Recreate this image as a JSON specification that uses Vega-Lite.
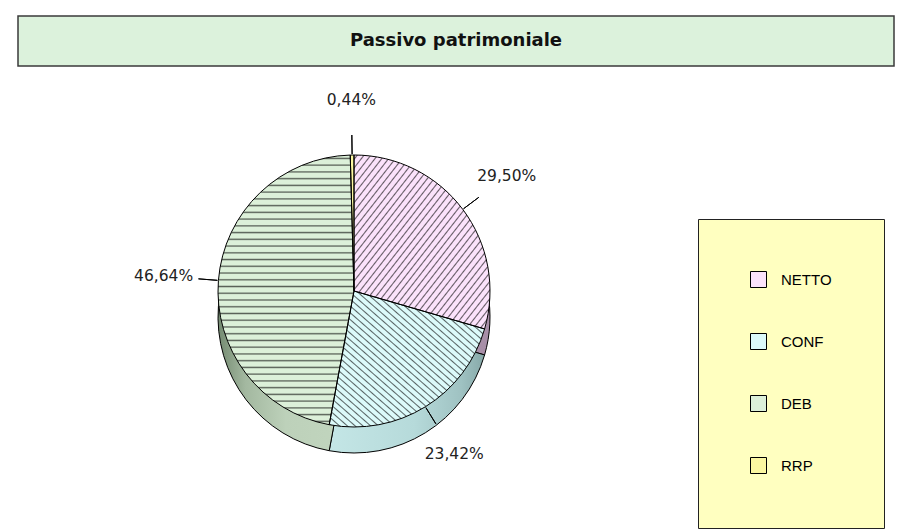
{
  "$schema": "https://vega.github.io/schema/vega-lite/v6.json",
  "background": "white",
  "padding": {"left": 17, "top": 15, "right": 0, "bottom": 0},
  "spacing": 1,
  "config": {
    "view": {"stroke": null},
    "locale": {"number": {"decimal": ",", "thousands": ".", "grouping": [3], "currency": ["€", ""]}}
  },
  "datasets": {
    "passivo": [
      {"voce": "NETTO", "quota": 0.2950, "ord": 1},
      {"voce": "CONF", "quota": 0.2342, "ord": 2},
      {"voce": "DEB", "quota": 0.4664, "ord": 3},
      {"voce": "RRP", "quota": 0.0044, "ord": 4}
    ]
  },
  "vconcat": [
    {
      "width": 876,
      "height": 50,
      "data": {"values": [{}]},
      "view": {"fill": "#dcf2dc", "stroke": "#3a3a3a", "strokeWidth": 1.5},
      "mark": {"type": "text", "font": "DejaVu Sans", "fontWeight": "bold", "fontSize": 18, "color": "#111111"},
      "encoding": {"text": {"value": "Passivo patrimoniale"}}
    },
    {
      "width": 672,
      "height": 446,
      "data": {"name": "passivo"},
      "encoding": {
        "theta": {"field": "quota", "type": "quantitative", "stack": true},
        "order": {"field": "ord", "type": "quantitative"}
      },
      "layer": [
        {
          "mark": {"type": "arc", "radius": 136, "yOffset": 13},
          "encoding": {
            "fill": {
              "condition": [
                {"test": "datum.voce === 'NETTO'", "value": "#a88fa8"},
                {"test": "datum.voce === 'CONF'", "value": "#a8cccc"},
                {"test": "datum.voce === 'DEB'", "value": "#748a71"}
              ],
              "value": "#d8d28a"
            }
          }
        },
        {
          "mark": {"type": "arc", "radius": 136, "yOffset": 26, "stroke": "#000000", "strokeWidth": 1},
          "encoding": {
            "fill": {
              "condition": [
                {"test": "datum.voce === 'NETTO'", "value": "#a88fa8"},
                {"test": "datum.voce === 'CONF'", "value": {"gradient": "linear", "x1": 0, "y1": 0, "x2": 1, "y2": 0, "stops": [
                  {"offset": 0, "color": "#c4e6e6"}, {"offset": 0.55, "color": "#b6dada"}, {"offset": 0.85, "color": "#9fc2c2"}, {"offset": 1, "color": "#86a8a8"}]}},
                {"test": "datum.voce === 'DEB'", "value": {"gradient": "linear", "x1": 0, "y1": 0, "x2": 1, "y2": 0, "stops": [
                  {"offset": 0, "color": "#748a71"}, {"offset": 0.2, "color": "#a3b8a0"}, {"offset": 0.5, "color": "#bdd1ba"}, {"offset": 1, "color": "#c2d6bf"}]}}
              ],
              "value": "#d8d28a"
            }
          }
        },
        {
          "mark": {"type": "arc", "radius": 136},
          "encoding": {
            "color": {"field": "voce", "type": "nominal",
              "sort": ["NETTO", "CONF", "DEB", "RRP"],
              "scale": {"domain": ["NETTO", "CONF", "DEB", "RRP"], "range": ["#fbe2fb", "#dcfafa", "#dcf0d9", "#fbf7a0"]},
              "legend": {
                "title": null,
                "orient": "none",
                "legendX": 680,
                "legendY": 203,
                "fillColor": "#ffffc0",
                "strokeColor": "#222222",
                "padding": 52,
                "rowPadding": 41,
                "symbolType": "square",
                "symbolSize": 256,
                "symbolStrokeColor": "#000000",
                "symbolStrokeWidth": 1,
                "symbolOpacity": 1,
                "labelFont": "Liberation Sans",
                "labelFontSize": 15,
                "labelColor": "#000000",
                "labelOffset": 14
              }
            }
          }
        },
        {
          "mark": {"type": "arc", "radius": 136, "stroke": "#000000", "strokeWidth": 1},
          "encoding": {
            "fill": {
              "condition": [
                {"test": "datum.voce === 'NETTO'", "value": {"gradient": "linear", "x1": 0, "y1": 0, "x2": 1, "y2": 1, "stops": [
{"offset":0.0075,"color":"transparent"},{"offset":0.0125,"color":"#00000099"},{"offset":0.0175,"color":"transparent"},
{"offset":0.0325,"color":"transparent"},{"offset":0.0375,"color":"#00000099"},{"offset":0.0425,"color":"transparent"},
{"offset":0.0575,"color":"transparent"},{"offset":0.0625,"color":"#00000099"},{"offset":0.0675,"color":"transparent"},
{"offset":0.0825,"color":"transparent"},{"offset":0.0875,"color":"#00000099"},{"offset":0.0925,"color":"transparent"},
{"offset":0.1075,"color":"transparent"},{"offset":0.1125,"color":"#00000099"},{"offset":0.1175,"color":"transparent"},
{"offset":0.1325,"color":"transparent"},{"offset":0.1375,"color":"#00000099"},{"offset":0.1425,"color":"transparent"},
{"offset":0.1575,"color":"transparent"},{"offset":0.1625,"color":"#00000099"},{"offset":0.1675,"color":"transparent"},
{"offset":0.1825,"color":"transparent"},{"offset":0.1875,"color":"#00000099"},{"offset":0.1925,"color":"transparent"},
{"offset":0.2075,"color":"transparent"},{"offset":0.2125,"color":"#00000099"},{"offset":0.2175,"color":"transparent"},
{"offset":0.2325,"color":"transparent"},{"offset":0.2375,"color":"#00000099"},{"offset":0.2425,"color":"transparent"},
{"offset":0.2575,"color":"transparent"},{"offset":0.2625,"color":"#00000099"},{"offset":0.2675,"color":"transparent"},
{"offset":0.2825,"color":"transparent"},{"offset":0.2875,"color":"#00000099"},{"offset":0.2925,"color":"transparent"},
{"offset":0.3075,"color":"transparent"},{"offset":0.3125,"color":"#00000099"},{"offset":0.3175,"color":"transparent"},
{"offset":0.3325,"color":"transparent"},{"offset":0.3375,"color":"#00000099"},{"offset":0.3425,"color":"transparent"},
{"offset":0.3575,"color":"transparent"},{"offset":0.3625,"color":"#00000099"},{"offset":0.3675,"color":"transparent"},
{"offset":0.3825,"color":"transparent"},{"offset":0.3875,"color":"#00000099"},{"offset":0.3925,"color":"transparent"},
{"offset":0.4075,"color":"transparent"},{"offset":0.4125,"color":"#00000099"},{"offset":0.4175,"color":"transparent"},
{"offset":0.4325,"color":"transparent"},{"offset":0.4375,"color":"#00000099"},{"offset":0.4425,"color":"transparent"},
{"offset":0.4575,"color":"transparent"},{"offset":0.4625,"color":"#00000099"},{"offset":0.4675,"color":"transparent"},
{"offset":0.4825,"color":"transparent"},{"offset":0.4875,"color":"#00000099"},{"offset":0.4925,"color":"transparent"},
{"offset":0.5075,"color":"transparent"},{"offset":0.5125,"color":"#00000099"},{"offset":0.5175,"color":"transparent"},
{"offset":0.5325,"color":"transparent"},{"offset":0.5375,"color":"#00000099"},{"offset":0.5425,"color":"transparent"},
{"offset":0.5575,"color":"transparent"},{"offset":0.5625,"color":"#00000099"},{"offset":0.5675,"color":"transparent"},
{"offset":0.5825,"color":"transparent"},{"offset":0.5875,"color":"#00000099"},{"offset":0.5925,"color":"transparent"},
{"offset":0.6075,"color":"transparent"},{"offset":0.6125,"color":"#00000099"},{"offset":0.6175,"color":"transparent"},
{"offset":0.6325,"color":"transparent"},{"offset":0.6375,"color":"#00000099"},{"offset":0.6425,"color":"transparent"},
{"offset":0.6575,"color":"transparent"},{"offset":0.6625,"color":"#00000099"},{"offset":0.6675,"color":"transparent"},
{"offset":0.6825,"color":"transparent"},{"offset":0.6875,"color":"#00000099"},{"offset":0.6925,"color":"transparent"},
{"offset":0.7075,"color":"transparent"},{"offset":0.7125,"color":"#00000099"},{"offset":0.7175,"color":"transparent"},
{"offset":0.7325,"color":"transparent"},{"offset":0.7375,"color":"#00000099"},{"offset":0.7425,"color":"transparent"},
{"offset":0.7575,"color":"transparent"},{"offset":0.7625,"color":"#00000099"},{"offset":0.7675,"color":"transparent"},
{"offset":0.7825,"color":"transparent"},{"offset":0.7875,"color":"#00000099"},{"offset":0.7925,"color":"transparent"},
{"offset":0.8075,"color":"transparent"},{"offset":0.8125,"color":"#00000099"},{"offset":0.8175,"color":"transparent"},
{"offset":0.8325,"color":"transparent"},{"offset":0.8375,"color":"#00000099"},{"offset":0.8425,"color":"transparent"},
{"offset":0.8575,"color":"transparent"},{"offset":0.8625,"color":"#00000099"},{"offset":0.8675,"color":"transparent"},
{"offset":0.8825,"color":"transparent"},{"offset":0.8875,"color":"#00000099"},{"offset":0.8925,"color":"transparent"},
{"offset":0.9075,"color":"transparent"},{"offset":0.9125,"color":"#00000099"},{"offset":0.9175,"color":"transparent"},
{"offset":0.9325,"color":"transparent"},{"offset":0.9375,"color":"#00000099"},{"offset":0.9425,"color":"transparent"},
{"offset":0.9575,"color":"transparent"},{"offset":0.9625,"color":"#00000099"},{"offset":0.9675,"color":"transparent"},
{"offset":0.9825,"color":"transparent"},{"offset":0.9875,"color":"#00000099"},{"offset":0.9925,"color":"transparent"}]}},
                {"test": "datum.voce === 'CONF'", "value": {"gradient": "linear", "x1": 0, "y1": 1, "x2": 1, "y2": 0, "stops": [
{"offset":0.0075,"color":"transparent"},{"offset":0.0125,"color":"#00000099"},{"offset":0.0175,"color":"transparent"},
{"offset":0.0325,"color":"transparent"},{"offset":0.0375,"color":"#00000099"},{"offset":0.0425,"color":"transparent"},
{"offset":0.0575,"color":"transparent"},{"offset":0.0625,"color":"#00000099"},{"offset":0.0675,"color":"transparent"},
{"offset":0.0825,"color":"transparent"},{"offset":0.0875,"color":"#00000099"},{"offset":0.0925,"color":"transparent"},
{"offset":0.1075,"color":"transparent"},{"offset":0.1125,"color":"#00000099"},{"offset":0.1175,"color":"transparent"},
{"offset":0.1325,"color":"transparent"},{"offset":0.1375,"color":"#00000099"},{"offset":0.1425,"color":"transparent"},
{"offset":0.1575,"color":"transparent"},{"offset":0.1625,"color":"#00000099"},{"offset":0.1675,"color":"transparent"},
{"offset":0.1825,"color":"transparent"},{"offset":0.1875,"color":"#00000099"},{"offset":0.1925,"color":"transparent"},
{"offset":0.2075,"color":"transparent"},{"offset":0.2125,"color":"#00000099"},{"offset":0.2175,"color":"transparent"},
{"offset":0.2325,"color":"transparent"},{"offset":0.2375,"color":"#00000099"},{"offset":0.2425,"color":"transparent"},
{"offset":0.2575,"color":"transparent"},{"offset":0.2625,"color":"#00000099"},{"offset":0.2675,"color":"transparent"},
{"offset":0.2825,"color":"transparent"},{"offset":0.2875,"color":"#00000099"},{"offset":0.2925,"color":"transparent"},
{"offset":0.3075,"color":"transparent"},{"offset":0.3125,"color":"#00000099"},{"offset":0.3175,"color":"transparent"},
{"offset":0.3325,"color":"transparent"},{"offset":0.3375,"color":"#00000099"},{"offset":0.3425,"color":"transparent"},
{"offset":0.3575,"color":"transparent"},{"offset":0.3625,"color":"#00000099"},{"offset":0.3675,"color":"transparent"},
{"offset":0.3825,"color":"transparent"},{"offset":0.3875,"color":"#00000099"},{"offset":0.3925,"color":"transparent"},
{"offset":0.4075,"color":"transparent"},{"offset":0.4125,"color":"#00000099"},{"offset":0.4175,"color":"transparent"},
{"offset":0.4325,"color":"transparent"},{"offset":0.4375,"color":"#00000099"},{"offset":0.4425,"color":"transparent"},
{"offset":0.4575,"color":"transparent"},{"offset":0.4625,"color":"#00000099"},{"offset":0.4675,"color":"transparent"},
{"offset":0.4825,"color":"transparent"},{"offset":0.4875,"color":"#00000099"},{"offset":0.4925,"color":"transparent"},
{"offset":0.5075,"color":"transparent"},{"offset":0.5125,"color":"#00000099"},{"offset":0.5175,"color":"transparent"},
{"offset":0.5325,"color":"transparent"},{"offset":0.5375,"color":"#00000099"},{"offset":0.5425,"color":"transparent"},
{"offset":0.5575,"color":"transparent"},{"offset":0.5625,"color":"#00000099"},{"offset":0.5675,"color":"transparent"},
{"offset":0.5825,"color":"transparent"},{"offset":0.5875,"color":"#00000099"},{"offset":0.5925,"color":"transparent"},
{"offset":0.6075,"color":"transparent"},{"offset":0.6125,"color":"#00000099"},{"offset":0.6175,"color":"transparent"},
{"offset":0.6325,"color":"transparent"},{"offset":0.6375,"color":"#00000099"},{"offset":0.6425,"color":"transparent"},
{"offset":0.6575,"color":"transparent"},{"offset":0.6625,"color":"#00000099"},{"offset":0.6675,"color":"transparent"},
{"offset":0.6825,"color":"transparent"},{"offset":0.6875,"color":"#00000099"},{"offset":0.6925,"color":"transparent"},
{"offset":0.7075,"color":"transparent"},{"offset":0.7125,"color":"#00000099"},{"offset":0.7175,"color":"transparent"},
{"offset":0.7325,"color":"transparent"},{"offset":0.7375,"color":"#00000099"},{"offset":0.7425,"color":"transparent"},
{"offset":0.7575,"color":"transparent"},{"offset":0.7625,"color":"#00000099"},{"offset":0.7675,"color":"transparent"},
{"offset":0.7825,"color":"transparent"},{"offset":0.7875,"color":"#00000099"},{"offset":0.7925,"color":"transparent"},
{"offset":0.8075,"color":"transparent"},{"offset":0.8125,"color":"#00000099"},{"offset":0.8175,"color":"transparent"},
{"offset":0.8325,"color":"transparent"},{"offset":0.8375,"color":"#00000099"},{"offset":0.8425,"color":"transparent"},
{"offset":0.8575,"color":"transparent"},{"offset":0.8625,"color":"#00000099"},{"offset":0.8675,"color":"transparent"},
{"offset":0.8825,"color":"transparent"},{"offset":0.8875,"color":"#00000099"},{"offset":0.8925,"color":"transparent"},
{"offset":0.9075,"color":"transparent"},{"offset":0.9125,"color":"#00000099"},{"offset":0.9175,"color":"transparent"},
{"offset":0.9325,"color":"transparent"},{"offset":0.9375,"color":"#00000099"},{"offset":0.9425,"color":"transparent"},
{"offset":0.9575,"color":"transparent"},{"offset":0.9625,"color":"#00000099"},{"offset":0.9675,"color":"transparent"},
{"offset":0.9825,"color":"transparent"},{"offset":0.9875,"color":"#00000099"},{"offset":0.9925,"color":"transparent"}]}},
                {"test": "datum.voce === 'DEB'", "value": {"gradient": "linear", "x1": 0, "y1": 0, "x2": 0, "y2": 1, "stops": [
{"offset":0.0075,"color":"transparent"},{"offset":0.0125,"color":"#00000099"},{"offset":0.0175,"color":"transparent"},
{"offset":0.0325,"color":"transparent"},{"offset":0.0375,"color":"#00000099"},{"offset":0.0425,"color":"transparent"},
{"offset":0.0575,"color":"transparent"},{"offset":0.0625,"color":"#00000099"},{"offset":0.0675,"color":"transparent"},
{"offset":0.0825,"color":"transparent"},{"offset":0.0875,"color":"#00000099"},{"offset":0.0925,"color":"transparent"},
{"offset":0.1075,"color":"transparent"},{"offset":0.1125,"color":"#00000099"},{"offset":0.1175,"color":"transparent"},
{"offset":0.1325,"color":"transparent"},{"offset":0.1375,"color":"#00000099"},{"offset":0.1425,"color":"transparent"},
{"offset":0.1575,"color":"transparent"},{"offset":0.1625,"color":"#00000099"},{"offset":0.1675,"color":"transparent"},
{"offset":0.1825,"color":"transparent"},{"offset":0.1875,"color":"#00000099"},{"offset":0.1925,"color":"transparent"},
{"offset":0.2075,"color":"transparent"},{"offset":0.2125,"color":"#00000099"},{"offset":0.2175,"color":"transparent"},
{"offset":0.2325,"color":"transparent"},{"offset":0.2375,"color":"#00000099"},{"offset":0.2425,"color":"transparent"},
{"offset":0.2575,"color":"transparent"},{"offset":0.2625,"color":"#00000099"},{"offset":0.2675,"color":"transparent"},
{"offset":0.2825,"color":"transparent"},{"offset":0.2875,"color":"#00000099"},{"offset":0.2925,"color":"transparent"},
{"offset":0.3075,"color":"transparent"},{"offset":0.3125,"color":"#00000099"},{"offset":0.3175,"color":"transparent"},
{"offset":0.3325,"color":"transparent"},{"offset":0.3375,"color":"#00000099"},{"offset":0.3425,"color":"transparent"},
{"offset":0.3575,"color":"transparent"},{"offset":0.3625,"color":"#00000099"},{"offset":0.3675,"color":"transparent"},
{"offset":0.3825,"color":"transparent"},{"offset":0.3875,"color":"#00000099"},{"offset":0.3925,"color":"transparent"},
{"offset":0.4075,"color":"transparent"},{"offset":0.4125,"color":"#00000099"},{"offset":0.4175,"color":"transparent"},
{"offset":0.4325,"color":"transparent"},{"offset":0.4375,"color":"#00000099"},{"offset":0.4425,"color":"transparent"},
{"offset":0.4575,"color":"transparent"},{"offset":0.4625,"color":"#00000099"},{"offset":0.4675,"color":"transparent"},
{"offset":0.4825,"color":"transparent"},{"offset":0.4875,"color":"#00000099"},{"offset":0.4925,"color":"transparent"},
{"offset":0.5075,"color":"transparent"},{"offset":0.5125,"color":"#00000099"},{"offset":0.5175,"color":"transparent"},
{"offset":0.5325,"color":"transparent"},{"offset":0.5375,"color":"#00000099"},{"offset":0.5425,"color":"transparent"},
{"offset":0.5575,"color":"transparent"},{"offset":0.5625,"color":"#00000099"},{"offset":0.5675,"color":"transparent"},
{"offset":0.5825,"color":"transparent"},{"offset":0.5875,"color":"#00000099"},{"offset":0.5925,"color":"transparent"},
{"offset":0.6075,"color":"transparent"},{"offset":0.6125,"color":"#00000099"},{"offset":0.6175,"color":"transparent"},
{"offset":0.6325,"color":"transparent"},{"offset":0.6375,"color":"#00000099"},{"offset":0.6425,"color":"transparent"},
{"offset":0.6575,"color":"transparent"},{"offset":0.6625,"color":"#00000099"},{"offset":0.6675,"color":"transparent"},
{"offset":0.6825,"color":"transparent"},{"offset":0.6875,"color":"#00000099"},{"offset":0.6925,"color":"transparent"},
{"offset":0.7075,"color":"transparent"},{"offset":0.7125,"color":"#00000099"},{"offset":0.7175,"color":"transparent"},
{"offset":0.7325,"color":"transparent"},{"offset":0.7375,"color":"#00000099"},{"offset":0.7425,"color":"transparent"},
{"offset":0.7575,"color":"transparent"},{"offset":0.7625,"color":"#00000099"},{"offset":0.7675,"color":"transparent"},
{"offset":0.7825,"color":"transparent"},{"offset":0.7875,"color":"#00000099"},{"offset":0.7925,"color":"transparent"},
{"offset":0.8075,"color":"transparent"},{"offset":0.8125,"color":"#00000099"},{"offset":0.8175,"color":"transparent"},
{"offset":0.8325,"color":"transparent"},{"offset":0.8375,"color":"#00000099"},{"offset":0.8425,"color":"transparent"},
{"offset":0.8575,"color":"transparent"},{"offset":0.8625,"color":"#00000099"},{"offset":0.8675,"color":"transparent"},
{"offset":0.8825,"color":"transparent"},{"offset":0.8875,"color":"#00000099"},{"offset":0.8925,"color":"transparent"},
{"offset":0.9075,"color":"transparent"},{"offset":0.9125,"color":"#00000099"},{"offset":0.9175,"color":"transparent"},
{"offset":0.9325,"color":"transparent"},{"offset":0.9375,"color":"#00000099"},{"offset":0.9425,"color":"transparent"},
{"offset":0.9575,"color":"transparent"},{"offset":0.9625,"color":"#00000099"},{"offset":0.9675,"color":"transparent"},
{"offset":0.9825,"color":"transparent"},{"offset":0.9875,"color":"#00000099"},{"offset":0.9925,"color":"transparent"}]}}
              ],
              "value": "transparent"
            }
          }
        },
        {
          "mark": {"type": "arc", "radius": 156, "radius2": 137, "padAngle": 3.1416, "filled": false, "stroke": "#000000", "strokeWidth": 1}
        },
        {
          "mark": {"type": "text", "radius": 191, "font": "DejaVu Sans", "fontSize": 15.5, "color": "#222222"},
          "encoding": {
            "text": {"field": "quota", "type": "quantitative", "format": ".2%"}
          }
        }
      ]
    }
  ]
}
